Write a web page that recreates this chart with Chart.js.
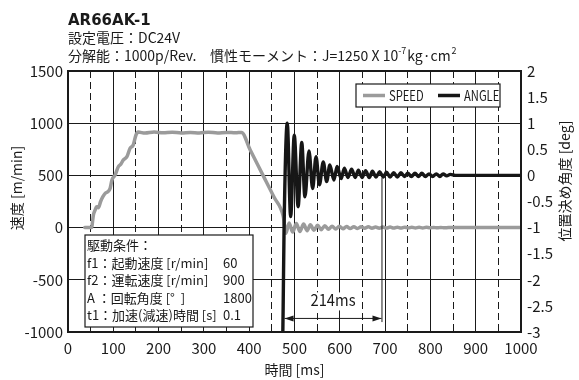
<!DOCTYPE html>
<html>
<head>
<meta charset="utf-8">
<script src="https://cdn.jsdelivr.net/npm/chart.js@4.4.1/dist/chart.umd.min.js"></script>
<style>
  html, body { margin: 0; padding: 0; background: #fff; }
</style>
</head>
<body>
<canvas id="chart" width="579" height="380"></canvas>
<script>
// speed trace [ms] / [m/min]
const speedTime = [37, 52, 56, 60, 63, 67, 72, 77, 82, 87, 93, 97, 104, 111, 117, 122, 130, 137, 144, 150, 155,
  170, 190, 210, 230, 250, 270, 290, 310, 330, 350, 370, 383, 402, 430, 455, 475,
  481, 488, 496, 504, 512, 520, 528, 535, 543, 551, 559, 567, 575, 583, 591, 599, 607, 615, 623, 631, 639,
  647, 655, 663, 671, 679, 687, 695, 703, 711, 719, 727, 735, 743, 751, 759, 767, 775, 783, 791, 799, 807,
  815, 823, 831, 840, 1000];
const speedValue = [0, 0, 120, 170, 200, 190, 250, 296, 328, 340, 376, 456, 504, 583, 610, 647, 679, 760, 791, 887, 915,
  905, 915, 908, 914, 906, 912, 907, 914, 906, 912, 908, 912, 745, 505, 290, 110,
  -55, 45, -42, 40, -38, 34, -30, 27, -25, 22, -20, 18, -16, 14, -13, 12, -11, 10, -9, 9, -8,
  8, -7, 7, -6, 6, -6, 5, -5, 5, -4, 4, -4, 4, -3, 3, -3, 3, -3, 3, -2, 2,
  -2, 2, -2, 0, 0];

// positioning angle trace [ms] / [deg]
const angleTime = [472, 475, 477, 484, 491.5, 499.5, 508, 516, 523, 532, 540, 547.5, 555, 563.5, 571, 578, 587,
  594, 603, 610, 618, 626, 634, 641, 649, 657, 665, 672, 680, 688, 696, 703, 711, 719, 727, 735, 743,
  750, 758, 766, 774, 781, 789, 797, 805, 813, 821, 828, 836, 844, 855, 1000];
const angleValue = [-4.5, -2.5, -1, 1.0, -0.79, 0.77, -0.6, 0.63, -0.41, 0.47, -0.25, 0.36, -0.18, 0.26, -0.12, 0.2, -0.09,
  0.17, -0.06, 0.14, -0.04, 0.12, -0.04, 0.1, -0.04, 0.09, -0.04, 0.08, -0.03, 0.07, -0.03, 0.06, -0.03, 0.05, -0.03, 0.05, -0.02,
  0.04, -0.02, 0.04, -0.02, 0.04, -0.02, 0.03, -0.02, 0.03, -0.02, 0.03, -0.01, 0.02, 0, 0];

const titleLines = ['AR66AK-1', '設定電圧：DC24V'];
const conditionLabels = ['駆動条件：', 'f1：起動速度 [r/min]', 'f2：運転速度 [r/min]', 'A ：回転角度 [°  ]', 't1：加速(減速)時間 [s]'];
const conditionValues = ['', '60', '900', '1800', '0.1'];

// settling-time marker
const settleStart = 478;
const settleEnd = 692;
const settleLabel = '214ms';

const FONT = "'Noto Sans CJK JP', sans-serif";
const INK = '#1a1a1a';

// narrow-looking text: squeeze horizontally
function condText(ctx, text, x, y, sx) {
    ctx.save();
    ctx.translate(x, y);
    ctx.scale(sx, 1);
    ctx.fillText(text, 0, 0);
    ctx.restore();
}

const decor = {
    id: 'decor',
    afterDraw(chart) {
        const { ctx, chartArea: a, scales: { x, y, y2 } } = chart;
        ctx.save();
        ctx.fillStyle = INK;
        ctx.strokeStyle = INK;

        // frame
        ctx.lineWidth = 2;
        ctx.strokeRect(a.left, a.top, a.right - a.left, a.bottom - a.top);

        // header
        ctx.textAlign = 'left';
        ctx.textBaseline = 'alphabetic';
        ctx.font = "bold 15px 'DejaVu Sans', sans-serif";
        ctx.fillText(titleLines[0], 68, 25);
        ctx.font = '14px ' + FONT;
        ctx.fillText(titleLines[1], 68, 43);
        ctx.fillText('分解能：1000p/Rev.', 68, 61);
        let cx = 210;
        const part1 = '慣性モーメント：J=1250 X 10';
        ctx.fillText(part1, cx, 61);
        cx += ctx.measureText(part1).width;
        ctx.font = '9px ' + FONT;
        ctx.fillText('-7', cx, 54);
        cx += ctx.measureText('-7').width + 1;
        ctx.font = '14px ' + FONT;
        ctx.fillText('kg·cm', cx, 61);
        cx += ctx.measureText('kg·cm').width + 1;
        ctx.font = '9px ' + FONT;
        ctx.fillText('2', cx, 54);

        // axis titles (both read bottom-to-top)
        ctx.font = '14px ' + FONT;
        ctx.textAlign = 'center';
        ctx.textBaseline = 'middle';
        ctx.save();
        ctx.translate(17, 188);
        ctx.rotate(-Math.PI / 2);
        ctx.fillText('速度 [m/min]', 0, 0);
        ctx.restore();
        ctx.save();
        ctx.translate(565, 181);
        ctx.rotate(-Math.PI / 2);
        ctx.fillText('位置決め角度 [deg]', 0, 0);
        ctx.restore();

        // legend
        ctx.lineWidth = 1.2;
        ctx.fillStyle = '#fff';
        ctx.fillRect(356, 84, 144, 23);
        ctx.strokeRect(356, 84, 144, 23);
        ctx.textAlign = 'left';
        ctx.textBaseline = 'alphabetic';
        let lx = 363;
        chart.data.datasets.forEach(ds => {
            ctx.strokeStyle = ds.borderColor;
            ctx.lineWidth = 3.5;
            ctx.beginPath();
            ctx.moveTo(lx, 95.5);
            ctx.lineTo(lx + 22, 95.5);
            ctx.stroke();
            ctx.fillStyle = INK;
            condText(ctx, ds.label, lx + 26, 100.5, 0.8);
            lx += 75;
        });

        // drive conditions box
        ctx.strokeStyle = INK;
        ctx.lineWidth = 1.2;
        ctx.fillStyle = '#fff';
        ctx.fillRect(85, 235, 168, 92);
        ctx.strokeRect(85, 235, 168, 92);
        ctx.fillStyle = INK;
        ctx.font = '13px ' + FONT;
        conditionLabels.forEach((t, i) => {
            const by = 250 + i * 17.5;
            ctx.fillText(t, 87, by);
            if (conditionValues[i]) ctx.fillText(conditionValues[i], 223, by);
        });

        // settling time marker
        const x0 = x.getPixelForValue(settleStart);
        const x1 = x.getPixelForValue(settleEnd);
        const ay = y.getPixelForValue(-870);
        const ty = y.getPixelForValue(-755);
        ctx.font = '16px ' + FONT;
        ctx.textAlign = 'center';
        const tw = ctx.measureText(settleLabel).width * 0.92;
        ctx.fillStyle = '#fff';
        ctx.fillRect((x0 + x1) / 2 - tw / 2 - 2, ty - 14, tw + 4, 18);
        ctx.fillStyle = INK;
        condText(ctx, settleLabel, (x0 + x1) / 2, ty, 0.92);
        ctx.lineWidth = 1;
        ctx.beginPath();
        ctx.moveTo(x1 + 0.5, y2.getPixelForValue(-0.05));
        ctx.lineTo(x1 + 0.5, y.getPixelForValue(-905));
        ctx.moveTo(x0, ay);
        ctx.lineTo(x1, ay);
        ctx.stroke();
        [[x0, 1], [x1, -1]].forEach(([px, dir]) => {
            ctx.beginPath();
            ctx.moveTo(px, ay);
            ctx.lineTo(px + dir * 9, ay - 3);
            ctx.lineTo(px + dir * 9, ay + 3);
            ctx.closePath();
            ctx.fill();
        });

        ctx.restore();
    }
};

const tickFont = { family: FONT, size: 15 };

new Chart(document.getElementById('chart'), {
    type: 'line',
    data: {
        datasets: [{
            label: 'SPEED',
            data: speedTime.map((t, i) => ({ x: t, y: speedValue[i] })),
            yAxisID: 'y',
            borderColor: '#9b9b9b',
            borderWidth: 3.5,
            order: 1
        }, {
            label: 'ANGLE',
            data: angleTime.map((t, i) => ({ x: t, y: angleValue[i] })),
            yAxisID: 'y2',
            borderColor: '#161616',
            borderWidth: 3.4,
            order: 0
        }]
    },
    options: {
        responsive: false,
        animation: false,
        devicePixelRatio: 1,
        layout: { padding: { top: 71, left: 0, right: 0, bottom: 0 } },
        elements: {
            point: { radius: 0 },
            line: { cubicInterpolationMode: 'monotone', borderJoinStyle: 'round', borderCapStyle: 'round' }
        },
        plugins: { legend: { display: false }, tooltip: { enabled: false } },
        scales: {
            x: {
                type: 'linear',
                min: 0,
                max: 1000,
                ticks: {
                    stepSize: 50,
                    autoSkip: false,
                    maxRotation: 0,
                    padding: 7,
                    color: INK,
                    font: tickFont,
                    callback: v => (v % 100 === 0 ? String(v) : '')
                },
                grid: { color: INK, lineWidth: 1, drawTicks: false },
                border: {
                    display: false,
                    dash: ctx => (ctx.tick && ctx.tick.value % 100 !== 0 ? [7, 4] : [])
                },
                title: {
                    display: true,
                    text: '時間 [ms]',
                    color: INK,
                    font: { family: FONT, size: 14 },
                    padding: { top: 0, bottom: 2 }
                },
                afterFit(scale) { scale.height = 48; }
            },
            y: {
                position: 'left',
                min: -1000,
                max: 1500,
                ticks: {
                    stepSize: 500,
                    autoSkip: false,
                    padding: 5,
                    color: INK,
                    font: tickFont,
                    callback: v => String(v)
                },
                grid: { color: INK, lineWidth: 1, drawTicks: false },
                border: { display: false },
                afterFit(scale) { scale.width = 68; }
            },
            y2: {
                position: 'right',
                min: -3,
                max: 2,
                ticks: {
                    stepSize: 0.5,
                    autoSkip: false,
                    padding: 6,
                    color: INK,
                    font: tickFont,
                    callback: v => String(v)
                },
                grid: { display: false, drawTicks: false },
                border: { display: false },
                afterFit(scale) { scale.width = 58; }
            }
        }
    },
    plugins: [decor]
});
</script>
</body>
</html>
